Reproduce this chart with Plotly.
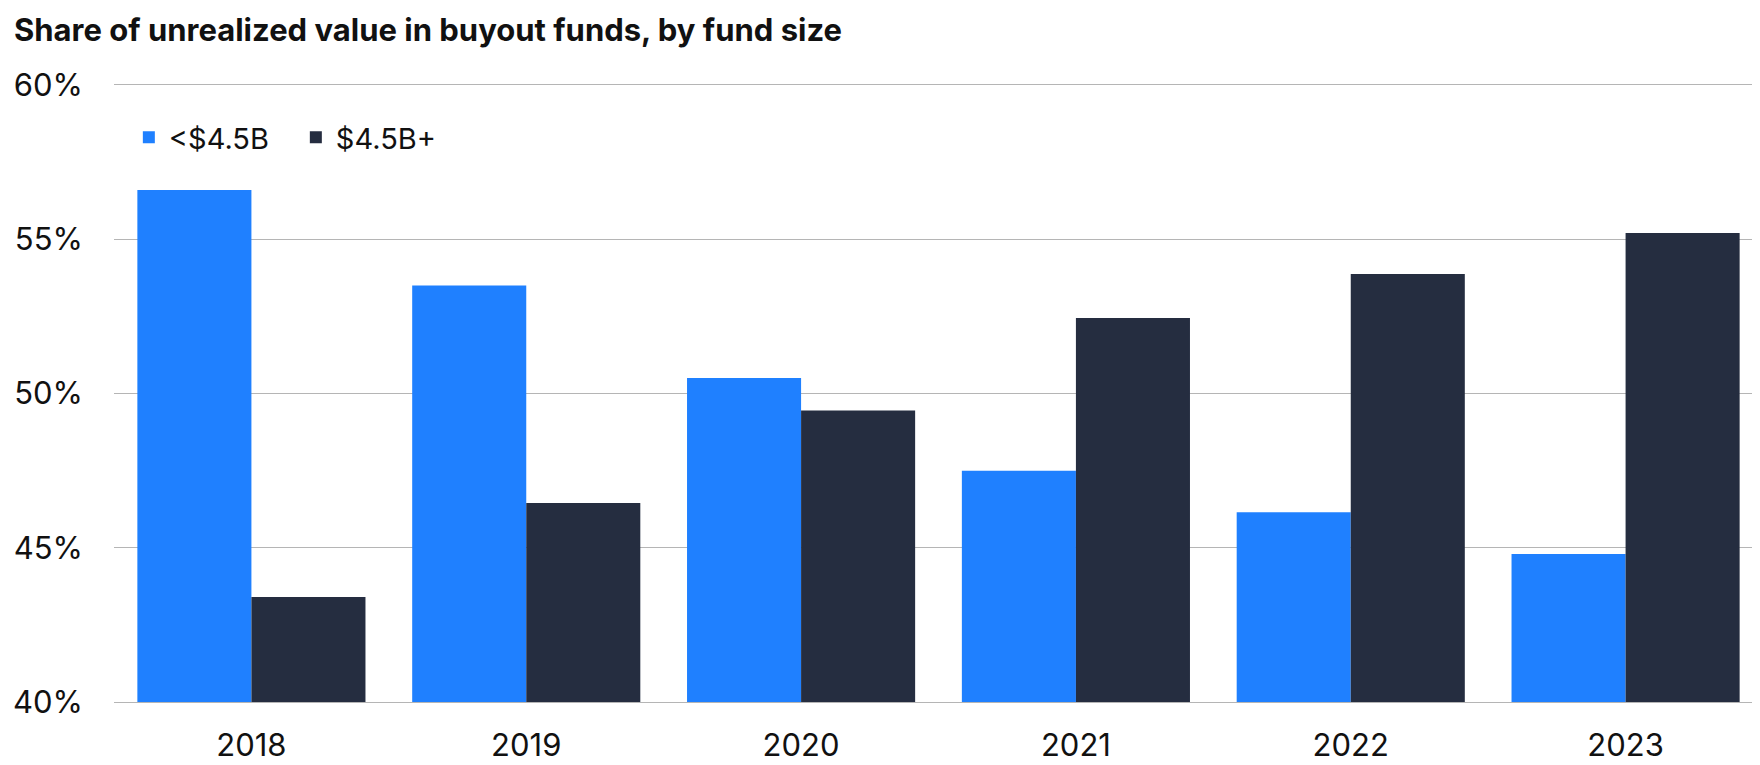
import plotly.graph_objects as go

# Data
years = ['2018', '2019', '2020', '2021', '2022', '2023']
small_funds = [56.6, 53.5, 50.5, 47.5, 46.15, 44.8]   # <$4.5B
large_funds = [43.4, 46.45, 49.45, 52.45, 53.87, 55.2]  # $4.5B+
y_ticks = [40, 45, 50, 55, 60]
y_tick_labels = ['40%', '45%', '50%', '55%', '60%']

blue = '#1F80FF'
navy = '#252D40'
grid = '#B5B5B5'
font_family = 'Inter, Roboto, sans-serif'

fig = go.Figure()
fig.add_trace(go.Bar(x=years, y=small_funds, name='<$4.5B',
                     marker=dict(color=blue, line=dict(width=0))))
fig.add_trace(go.Bar(x=years, y=large_funds, name='$4.5B+',
                     marker=dict(color=navy, line=dict(width=0))))

fig.update_layout(
    width=1760,
    height=765,
    margin=dict(l=104, r=5, t=77, b=71),
    paper_bgcolor='white',
    plot_bgcolor='white',
    font=dict(family=font_family, color='#111111'),
    barmode='group',
    bargap=0.17,
    bargroupgap=0,
    title=dict(
        text='<b>Share of unrealized value in buyout funds, by fund size</b>',
        font=dict(size=31, color='#111111', family=font_family),
        xref='container', x=6 / 1760, xanchor='left',
        yref='container', y=1 - 22 / 765, yanchor='middle',
    ),
    legend=dict(
        orientation='h',
        x=0.009, xanchor='left',
        y=0.915, yanchor='middle',
        font=dict(size=29, color='#111111'),
        bgcolor='rgba(0,0,0,0)',
        traceorder='normal',
        entrywidth=122,
        entrywidthmode='pixels',
    ),
    showlegend=True,
)

fig.update_yaxes(
    range=[40, 60],
    tickvals=y_ticks,
    ticktext=y_tick_labels,
    tickfont=dict(size=31, color='#111111'),
    gridcolor=grid,
    gridwidth=1,
    zeroline=False,
    showline=False,
    ticks='',
    ticklabelstandoff=30,
)
fig.update_xaxes(
    type='category',
    tickfont=dict(size=31, color='#111111'),
    showline=True,
    mirror=True,
    linecolor=grid,
    linewidth=1,
    showgrid=False,
    ticks='',
    ticklabelstandoff=16,
)

fig.write_html('out.html')
